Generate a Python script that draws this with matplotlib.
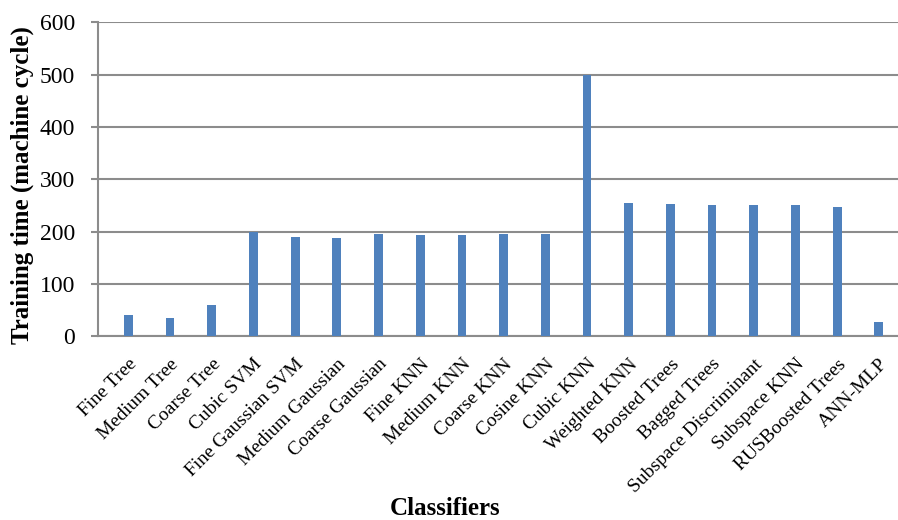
import matplotlib.pyplot as plt
import matplotlib.transforms as mtransforms
import numpy as np

# Training time per classifier
classifiers = ['Fine Tree', 'Medium Tree', 'Coarse Tree', 'Cubic SVM',
               'Fine Gaussian SVM', 'Medium Gaussian', 'Coarse Gaussian',
               'Fine KNN', 'Medium KNN', 'Coarse KNN', 'Cosine KNN',
               'Cubic KNN', 'Weighted KNN', 'Boosted Trees', 'Bagged Trees',
               'Subspace Discriminant', 'Subspace KNN', 'RUSBoosted Trees',
               'ANN-MLP']
train_time = [40, 35, 60, 200, 190, 188, 196, 194, 194, 196, 196,
              500, 254, 252, 250, 250, 250, 248, 27]
yticks = [0, 100, 200, 300, 400, 500, 600]

plt.rcParams['font.family'] = ['Liberation Serif', 'DejaVu Serif']

fig = plt.figure(figsize=(8.98, 5.2), dpi=100)
ax = fig.add_axes([0.1086, 0.3533, 1 - 0.1086, 0.9571 - 0.3533])

x = np.arange(len(classifiers))
grid_col = '#8c8c8c'

ax.bar(x, train_time, width=0.21, color='#4F81BD', zorder=3)

ax.set_ylim(0, 600)
ax.set_xlim(-0.74, 18.46)
ax.set_yticks(yticks)
ax.set_yticklabels([str(t) for t in yticks], fontsize=17)
ax.yaxis.grid(True, color=grid_col, linewidth=1.5, zorder=0)

ax.set_xticks(x)
ax.set_xticklabels(classifiers, fontsize=14, rotation=45,
                   ha='right', va='top', rotation_mode='anchor')
# nudge the rotated labels slightly to the right
shift = mtransforms.ScaledTranslation(3 / 100, 0, fig.dpi_scale_trans)
for lbl in ax.get_xticklabels():
    lbl.set_transform(lbl.get_transform() + shift)

ax.tick_params(axis='x', length=0, pad=14)
ax.tick_params(axis='y', length=5, width=1.5, color=grid_col, pad=11)

for side in ['top', 'right']:
    ax.spines[side].set_visible(False)
for side in ['left', 'bottom']:
    ax.spines[side].set_color(grid_col)
    ax.spines[side].set_linewidth(1.5)

fig.text(22 / 898, 1 - 185 / 520, 'Training time (machine cycle)',
         rotation=90, ha='center', va='center', fontsize=18, fontweight='bold')
fig.text(445 / 898, 1 - 515 / 520, 'Classifiers', ha='center',
         va='baseline', fontsize=18, fontweight='bold')

fig.savefig('out.png', dpi=100)
